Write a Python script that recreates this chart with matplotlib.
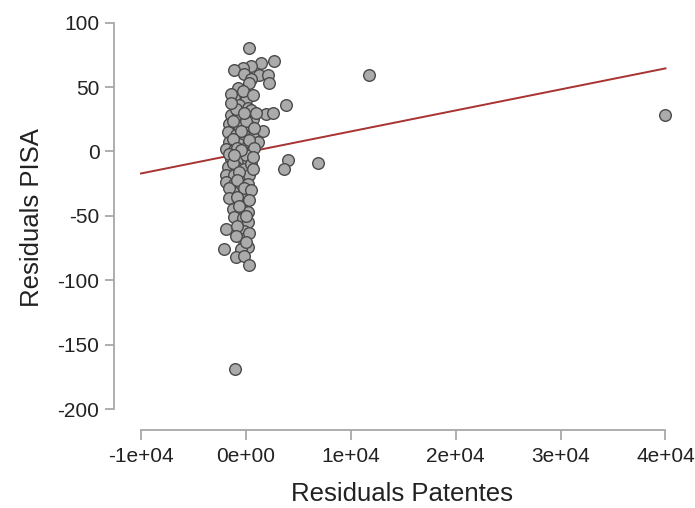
import numpy as np
import matplotlib
matplotlib.use("Agg")
import matplotlib.pyplot as plt

# residuals
res_patentes = [315, 2700, 1430, 477, -315, -1115, 1267, -162, 477, 2070,
                2220, 315, -790, -1115, 0, -640, 160, 3810, 1910, 2545,
                -1430, -790, 160, 640, -1590, -640, 315, 1590, -1745, -950,
                -160, 640, 1115, -1590, -640, 160, -1900, -1115, -315, 477,
                -1430, -640, 160, -1745, -950, -160, 3970, 3650, -1900, -1115,
                -315, 315, -1900, -1115, -477, 160, -1267, -315, -1115, -160,
                -1267, -477, 160, -1115, -315, 160, -1900, -160, -315, -2125,
                160, -477, -950, -160, 315, -1020, 6830, 11700, 40000,
                -1430, -320, 640, -950, 480, -1270, 0, -480, 800, -1270,
                320, -800, 800, -1590, 0, -480, -1270, 480, -640, 640,
                -1590, -800, -160, 480, -1590, -800, 320, -640, 0, -800,
                320, -950, 0, -1430, -160, 950, -1100, 640]
res_pisa = [80, 70, 69, 66, 65, 63, 59, 60, 56, 59,
            53, 53, 49, 42, 40, 36, 34, 36, 29, 30,
            28, 29, 28, 25, 21.5, 20, 20, 16, 15, 12.4,
            12.4, 11, 7, 7, 6, 4.7, 2, 1, -0.5, -0.5,
            -5.7, -6.2, -7, -12, -12, -13.4, -7, -13.4, -18.6, -18.6,
            -20, -18.6, -24, -25, -27.7, -25, -31.6, -32.8, -38, -40.6,
            -44.5, -45.8, -47, -51, -51.8, -55, -60, -61.4, -67.8, -75.6,
            -74.3, -75.6, -82, -81, -88.5, -168.8, -8.8, 59, 28,
            45, 47, 44, 33, 32, 24, 24, 16, 18, 10,
            9, 3, 3, -2, -3, 1, -9, -10, -16, -14,
            -28, -22, -28, -30, -36, -35, -38, -42, -50, -58,
            -63, -66, -70, 38, 30, 30, -3, -4]

# fitted line end points
line_x = [-1e4, 4e4]
line_y = [-17.1, 64.5]

x_ticks = [-1e4, 0, 1e4, 2e4, 3e4, 4e4]
x_labels = ["-1e+04", "0e+00", "1e+04", "2e+04", "3e+04", "4e+04"]
y_ticks = [-200, -150, -100, -50, 0, 50, 100]

plt.rcParams["font.family"] = ["Liberation Sans", "DejaVu Sans"]
plt.rcParams["axes.unicode_minus"] = False

fig = plt.figure(figsize=(6.95, 5.08), dpi=100)
ax = fig.add_axes([0.164, 0.1535, 0.8288, 0.8366])

ax.plot(line_x, line_y, color="#a83232", linewidth=1.4, zorder=2)
ax.scatter(res_patentes, res_pisa, s=70, facecolor="#ababab",
           edgecolor="#4a4a4a", linewidth=1.0, zorder=3)

ax.set_xlim(-12574, 42336)
ax.set_ylim(-216.3, 113.7)

for side in ["top", "right"]:
    ax.spines[side].set_visible(False)
ax.spines["left"].set_bounds(-200, 100)
ax.spines["bottom"].set_bounds(-1e4, 4e4)
for side in ["left", "bottom"]:
    ax.spines[side].set_color("#a8a8a8")
    ax.spines[side].set_linewidth(1.3)

ax.set_xticks(x_ticks)
ax.set_xticklabels(x_labels)
ax.set_yticks(y_ticks)
ax.tick_params(axis="both", colors="#a8a8a8", width=1.3, labelsize=15,
               labelcolor="#222222")
ax.tick_params(axis="y", length=6.5, pad=4)
ax.tick_params(axis="x", length=7, pad=5)

ax.set_xlabel("Residuals Patentes", fontsize=18.5, color="#222222", labelpad=12)
ax.set_ylabel("Residuals PISA", fontsize=18.5, color="#222222", labelpad=10)

fig.savefig("out.png", dpi=100)
